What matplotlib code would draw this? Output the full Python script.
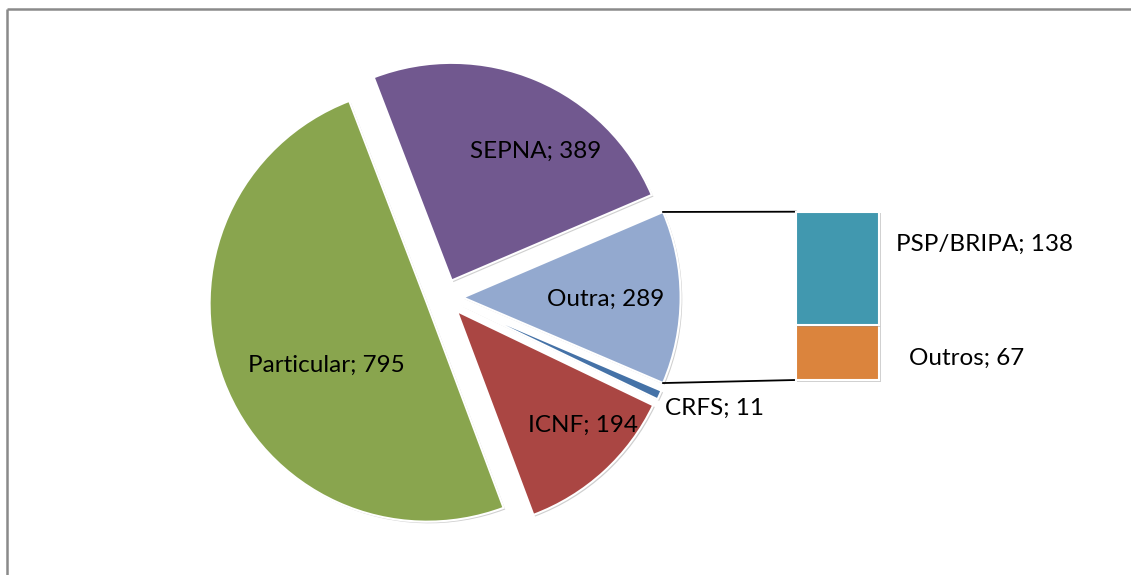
import matplotlib
matplotlib.use("Agg")
import matplotlib.pyplot as plt
import matplotlib.patheffects as pe
import numpy as np

# ---- data ----
pie_labels = ["SEPNA", "Outra", "CRFS", "ICNF", "Particular"]
pie_values = [389, 205, 11, 194, 795]          # 'Outra' slice = sum of bar items
pie_label_values = [389, 289, 11, 194, 795]    # values as printed on the chart
bar_labels = ["Outros", "PSP/BRIPA"]
bar_values = [67, 138]

pie_colors = ["#71588F", "#93A9CF", "#4572A7", "#AA4643", "#89A54E"]
bar_colors = ["#DB843D", "#4198AF"]

# ---- layout (pixels) ----
W, H = 1131, 575
CX, CY = 444.5, 297.5
R = 217.6
EXP = 18.5          # explode distance in pixels (data units)
BX, BTOP, BW, BH = 795.7, 211.7, 83.6, 168.3

plt.rcParams['font.family'] = ['Lato', 'DejaVu Sans']
FS = 17.5

fig = plt.figure(figsize=(W / 100, H / 100), dpi=100)
ax = fig.add_axes([0, 0, 1, 1])

total = sum(pie_values)
start = (pie_values[0] + pie_values[1] / 2) / total * 360.0
shadow = [pe.SimplePatchShadow(offset=(1.2, -1.2), shadow_rgbFace='#777777', alpha=0.35), pe.Normal()]
wedges, _ = ax.pie(pie_values, colors=pie_colors, startangle=start, counterclock=False,
                   radius=R, center=(CX, H - CY), explode=[EXP] * len(pie_values),
                   wedgeprops=dict(edgecolor='white', linewidth=1.5))
for w in wedges:
    w.set_path_effects(shadow)
ax.set_xlim(0, W)
ax.set_ylim(0, H)
ax.axis('off')

# border (top and left lines of the chart area)
ax.plot([7, 7], [0, H - 8.5], color='#8a8a8a', lw=1.8, solid_capstyle='butt')
ax.plot([7, W], [H - 8.5, H - 8.5], color='#8a8a8a', lw=1.8, solid_capstyle='butt')

# stacked bar of the secondary plot
bax = fig.add_axes([BX / W, (H - BTOP - BH) / H, BW / W, BH / H])
bottom = 0
for v, c in zip(bar_values, bar_colors):
    b = bax.bar(0, v, bottom=bottom, width=1.0, color=c, edgecolor='white', linewidth=1.5)
    for p in b:
        p.set_clip_on(False)
        p.set_path_effects(shadow)
    bottom += v
bax.set_xlim(-0.5, 0.5)
bax.set_ylim(0, sum(bar_values))
bax.axis('off')

# connector lines from the 'Outra' slice to the bar
w = wedges[1]
wcx, wcy = w.center
for t, yb in [(w.theta2, H - BTOP), (w.theta1, H - BTOP - BH)]:
    px = wcx + w.r * np.cos(np.radians(t))
    py = wcy + w.r * np.sin(np.radians(t))
    ax.plot([px, BX], [py, yb], color='black', lw=1.3)

# labels (baseline positions)
pie_label_pos = [(535.8, 158.3), (605.8, 305.6), (714.5, 415.0), (583.3, 431.6), (326.0, 371.6)]
for name, val, (x, y) in zip(pie_labels, pie_label_values, pie_label_pos):
    ax.text(x, H - y, f"{name}; {val}", ha='center', va='baseline', fontsize=FS, color='black')
bar_label_pos = [(966.7, 365.0), (985.0, 250.5)]
for name, val, (x, y) in zip(bar_labels, bar_values, bar_label_pos):
    ax.text(x, H - y, f"{name}; {val}", ha='center', va='baseline', fontsize=FS, color='black')

fig.savefig("out.png", dpi=100)
